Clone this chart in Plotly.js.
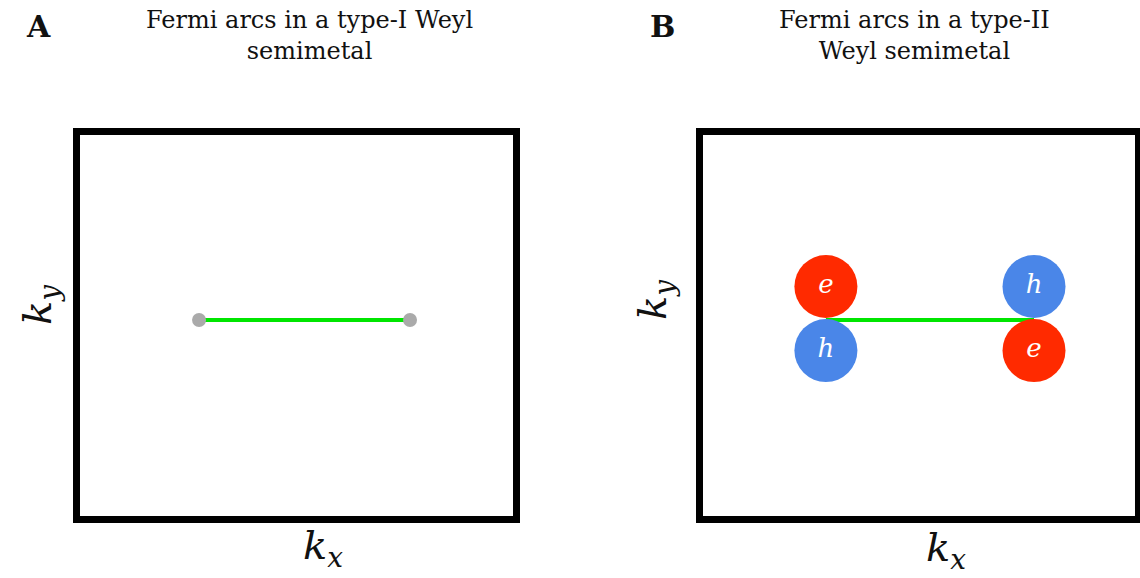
<!DOCTYPE html>
<html>
<head>
<meta charset="utf-8">
<script src="https://cdn.plot.ly/plotly-3.0.1.min.js"></script>
<style>html,body{margin:0;padding:0;background:#fff;}#chart{width:1140px;height:578px;}</style>
</head>
<body>
<div id="chart"></div>
<script>
// Panel titles and labels
const panelLetters = ["A", "B"];
const panelTitles = ["Fermi arcs in a type-I Weyl<br>semimetal", "Fermi arcs in a type-II<br>Weyl semimetal"];
// Panel A: Weyl points (type I) joined by a Fermi arc
const weylA_kx = [-0.443, 0.516];
const weylA_ky = [0.028, 0.028];
// Panel B: type-II Weyl points with electron / hole pockets
const weylB_kx = [-0.424, 0.524];
const weylB_ky = [0.028, 0.028];
const pocketB_kx = [-0.424, -0.424, 0.524, 0.524];
const pocketB_ky = [0.201, -0.129, 0.201, -0.129];
const pocketB_type = ["e", "h", "h", "e"];
// Brillouin-zone box (data coords)
const boxMin = -1, boxMax = 1;

const red = "#ff2a00", blue = "#4a86e8", green = "#00e600", grey = "#aaaaaa";
const serif = "DejaVu Serif, Liberation Serif, serif";

const traces = [
  {x: weylA_kx, y: weylA_ky, xaxis: "x", yaxis: "y", mode: "lines",
   line: {color: green, width: 4}, hoverinfo: "skip", showlegend: false},
  {x: weylA_kx, y: weylA_ky, xaxis: "x", yaxis: "y", mode: "markers",
   marker: {color: grey, size: 14}, hoverinfo: "skip", showlegend: false},
  {x: weylB_kx, y: weylB_ky, xaxis: "x2", yaxis: "y2", mode: "lines",
   line: {color: green, width: 4}, hoverinfo: "skip", showlegend: false},
  {x: pocketB_kx, y: pocketB_ky, xaxis: "x2", yaxis: "y2", mode: "markers+text",
   text: pocketB_type.map(t => "<i>" + t + "</i>"),
   textposition: "middle center",
   textfont: {color: "#ffffff", size: 26, family: serif},
   marker: {color: pocketB_type.map(t => t === "e" ? red : blue), size: 63, line: {width: 0}},
   hoverinfo: "skip", showlegend: false}
];

const axisCommon = {showgrid: false, zeroline: false, showticklabels: false, ticks: "", showline: false, fixedrange: true};

function boxShape(xr, yr) {
  return {type: "rect", xref: xr, yref: yr, x0: boxMin, x1: boxMax, y0: boxMin, y1: boxMax,
          line: {color: "#000", width: 7}, fillcolor: "rgba(0,0,0,0)", layer: "above"};
}

const ann = (x, y, text, size, opts) => Object.assign({
  xref: "paper", yref: "paper", x: x / 1140, y: 1 - y / 578, text: text, showarrow: false,
  xanchor: "center", yanchor: "middle", font: {family: serif, size: size, color: "#111"}
}, opts || {});

const layout = {
  width: 1140, height: 578,
  margin: {l: 0, r: 0, t: 0, b: 0},
  paper_bgcolor: "#fff", plot_bgcolor: "#fff",
  xaxis: Object.assign({}, axisCommon, {domain: [65.5 / 1140, 527.5 / 1140], range: [-1.05, 1.05]}),
  yaxis: Object.assign({}, axisCommon, {domain: [1 - 529.2 / 578, 1 - 121.8 / 578], range: [-1.05, 1.05]}),
  xaxis2: Object.assign({}, axisCommon, {domain: [688.5 / 1140, 1], range: [-1.05, 1.0069]}),
  yaxis2: Object.assign({}, axisCommon, {domain: [1 - 529.2 / 578, 1 - 121.8 / 578], range: [-1.05, 1.05]}),
  shapes: [boxShape("x", "y"), boxShape("x2", "y2")],
  annotations: [
    ann(38, 26, "<b>" + panelLetters[0] + "</b>", 30),
    ann(662, 26, "<b>" + panelLetters[1] + "</b>", 30),
    ann(309, 35, panelTitles[0], 24),
    ann(914, 35, panelTitles[1], 24),
    ann(40, 305, "<i>k</i><sub><i>y</i></sub>", 40, {textangle: -90}),
    ann(323, 548, "<i>k</i><sub><i>x</i></sub>", 40),
    ann(655, 300, "<i>k</i><sub><i>y</i></sub>", 40, {textangle: -90}),
    ann(946, 550, "<i>k</i><sub><i>x</i></sub>", 40)
  ]
};

Plotly.newPlot("chart", traces, layout, {displayModeBar: false, staticPlot: true});
</script>
</body>
</html>
